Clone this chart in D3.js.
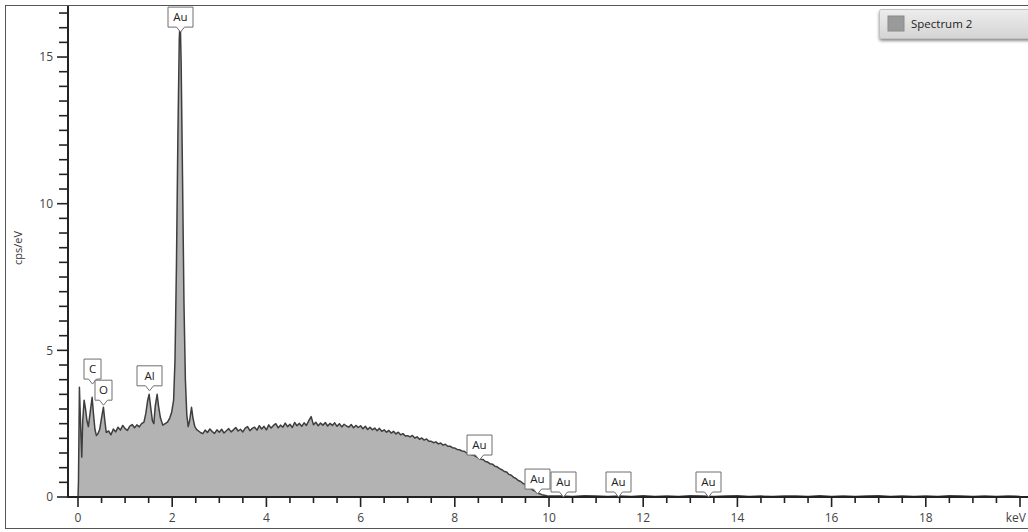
<!DOCTYPE html>
<html>
<head>
<meta charset="utf-8">
<script src="https://cdn.jsdelivr.net/npm/d3@7"></script>
<style>
  body { margin: 0; background: #fff; }
  svg { display: block; font-family: "Open Sans", "DejaVu Sans", sans-serif; }
</style>
</head>
<body>
<script>
// Low energy part of the spectrum (peaks C, O, Al, Au M)
const peakKeV = [0.00, 0.01, 0.03, 0.06, 0.08, 0.10, 0.13, 0.16, 0.19, 0.22, 0.26, 0.30, 0.33, 0.36, 0.39, 0.42,
  0.46, 0.50, 0.54, 0.57, 0.60, 0.65, 0.70, 0.75, 0.80, 0.85, 0.90, 0.95, 1.00, 1.05, 1.10, 1.15, 1.20, 1.25,
  1.30, 1.35, 1.40, 1.44, 1.48, 1.51, 1.54, 1.58, 1.61, 1.64, 1.68, 1.71, 1.75, 1.80, 1.85, 1.90, 1.95, 1.99,
  2.03, 2.06, 2.09, 2.12, 2.15, 2.17, 2.19, 2.22, 2.25, 2.28, 2.31, 2.34, 2.37, 2.41, 2.44, 2.48, 2.52, 2.56, 2.60];
const peakCps = [0.00, 0.50, 3.74, 2.20, 1.36, 2.60, 3.30, 3.00, 2.60, 2.40, 2.90, 3.40, 2.80, 2.30, 2.10, 2.15,
  2.30, 2.70, 3.06, 2.60, 2.20, 2.25, 2.12, 2.32, 2.22, 2.38, 2.28, 2.44, 2.33, 2.27, 2.42, 2.47, 2.36, 2.46,
  2.39, 2.50, 2.55, 2.85, 3.30, 3.50, 3.10, 2.60, 2.50, 3.10, 3.50, 3.10, 2.70, 2.45, 2.50, 2.55, 2.70, 2.90,
  3.30, 4.70, 7.90, 12.2, 15.6, 16.3, 14.8, 10.8, 6.60, 4.00, 2.80, 2.40, 2.60, 3.06, 2.70, 2.40, 2.30, 2.25, 2.20];

// Bremsstrahlung background, channels every 0.05 keV from 2.65 keV
const bgStart = 2.65, bgStep = 0.05;
const bgCps = [
  2.16, 2.28, 2.20, 2.32, 2.23, 2.17, 2.29, 2.21, 2.31, 2.18, 2.26,
  2.33, 2.22, 2.29, 2.37, 2.25, 2.31, 2.22, 2.35, 2.40, 2.26, 2.34,
  2.38, 2.28, 2.43, 2.32, 2.41, 2.29, 2.46, 2.35, 2.44, 2.50, 2.36,
  2.45, 2.38, 2.52, 2.40, 2.48, 2.37, 2.54, 2.43, 2.51, 2.41, 2.53,
  2.44, 2.60, 2.74, 2.46, 2.55, 2.43, 2.52, 2.45, 2.54, 2.42, 2.51,
  2.44, 2.53, 2.41, 2.50, 2.39, 2.48, 2.42, 2.38, 2.47, 2.36, 2.44,
  2.37, 2.43, 2.33, 2.41, 2.30, 2.38, 2.29, 2.35, 2.26, 2.34, 2.24,
  2.29, 2.21, 2.27, 2.18, 2.24, 2.15, 2.21, 2.12, 2.16, 2.08, 2.09,
  2.05, 2.10, 2.01, 2.05, 1.97, 2.01, 1.94, 1.98, 1.90, 1.90, 1.85,
  1.88, 1.81, 1.84, 1.77, 1.80, 1.73, 1.73, 1.68, 1.67, 1.62, 1.61,
  1.57, 1.56, 1.50, 1.50, 1.44, 1.43, 1.38, 1.34, 1.29, 1.28, 1.21,
  1.19, 1.13, 1.12, 1.05, 1.03, 0.97, 0.93, 0.87, 0.85, 0.77, 0.74,
  0.67, 0.63, 0.56, 0.53, 0.46, 0.43, 0.35, 0.31, 0.24, 0.21, 0.15,
  0.11, 0.08, 0.06, 0.04, 0.03];

// Tail above 10 keV, channels every 0.25 keV from 10.25 keV
const tailStart = 10.25, tailStep = 0.25;
const tailCps = [
  0.03, 0.02, 0.04, 0.03, 0.02, 0.03, 0.02, 0.04, 0.02, 0.03,
  0.02, 0.04, 0.03, 0.02, 0.03, 0.04, 0.02, 0.03, 0.02, 0.03,
  0.03, 0.02, 0.04, 0.02, 0.03, 0.02, 0.03, 0.04, 0.02, 0.03,
  0.02, 0.03, 0.02, 0.04, 0.03, 0.02, 0.03, 0.02, 0.03, 0.02];

// Element markers: label, energy, height of pointer tip
const markerNames = ["Au", "C", "O", "Al", "Au", "Au", "Au", "Au", "Au"];
const markerKeV = [2.17, 0.30, 0.54, 1.51, 8.51, 9.75, 10.30, 11.46, 13.38];
const markerTip = [15.85, 3.85, 3.13, 3.62, 1.26, 0.10, 0.0, 0.0, 0.0];

const yTickLabels = [0, 5, 10, 15];
const xTickLabels = [0, 2, 4, 6, 8, 10, 12, 14, 16, 18];
const seriesName = "Spectrum 2";

const width = 1028, height = 532;

let spectrum = peakKeV.map((k, i) => ({ k, v: peakCps[i] }));
bgCps.forEach((v, i) => spectrum.push({ k: bgStart + i * bgStep, v }));
tailCps.forEach((v, i) => spectrum.push({ k: tailStart + i * tailStep, v }));

const x = d3.scaleLinear().domain([0, 20]).range([78, 1020]);
const y = d3.scaleLinear().domain([0, 16.74]).range([497, 6]);

const svg = d3.select("body").append("svg")
    .attr("width", width)
    .attr("height", height);

// outer frame
svg.append("rect")
    .attr("x", 5.5).attr("y", 5.5)
    .attr("width", 1030).attr("height", 523)
    .attr("fill", "none")
    .attr("stroke", "#555")
    .attr("stroke-width", 1);

// spectrum
const area = d3.area()
    .x(d => x(d.k))
    .y0(y(0))
    .y1(d => y(d.v));
const line = d3.line()
    .x(d => x(d.k))
    .y(d => y(d.v));

svg.append("path")
    .datum(spectrum)
    .attr("d", area)
    .attr("fill", "#b3b3b3");
svg.append("path")
    .datum(spectrum)
    .attr("d", line)
    .attr("fill", "none")
    .attr("stroke", "#3e3e3e")
    .attr("stroke-width", 1.5)
    .attr("stroke-linejoin", "round");

// axes
const axisColor = "#222";
svg.append("line")
    .attr("x1", 68).attr("x2", 68).attr("y1", 6).attr("y2", 498)
    .attr("stroke", axisColor).attr("stroke-width", 2);
svg.append("line")
    .attr("x1", 67).attr("x2", 1030).attr("y1", 497).attr("y2", 497)
    .attr("stroke", axisColor).attr("stroke-width", 2);

const yMinor = d3.range(0, 16.6, 0.5);
svg.append("g")
    .selectAll("line")
    .data(yMinor)
    .join("line")
    .attr("x1", d => (d % 5 === 0 ? 57 : 59))
    .attr("x2", 68)
    .attr("y1", d => y(d)).attr("y2", d => y(d))
    .attr("stroke", axisColor).attr("stroke-width", 1.6);

svg.append("g")
    .selectAll("text")
    .data(yTickLabels)
    .join("text")
    .attr("x", 53)
    .attr("y", d => y(d))
    .attr("dy", "0.35em")
    .attr("text-anchor", "end")
    .attr("font-size", 12)
    .attr("fill", "#444")
    .text(d => d);

const xMinor = d3.range(0, 20.01, 0.5);
svg.append("g")
    .selectAll("line")
    .data(xMinor)
    .join("line")
    .attr("x1", d => x(d)).attr("x2", d => x(d))
    .attr("y1", 497)
    .attr("y2", d => (d % 2 === 0 ? 507 : 503))
    .attr("stroke", axisColor).attr("stroke-width", 1.6);

svg.append("g")
    .selectAll("text")
    .data(xTickLabels)
    .join("text")
    .attr("x", d => x(d))
    .attr("y", 522)
    .attr("text-anchor", "middle")
    .attr("font-size", 12)
    .attr("fill", "#444")
    .text(d => d);

svg.append("text")
    .attr("x", 1026)
    .attr("y", 522)
    .attr("text-anchor", "end")
    .attr("font-size", 12)
    .attr("fill", "#444")
    .text("keV");

svg.append("text")
    .attr("transform", "translate(22,248) rotate(-90)")
    .attr("text-anchor", "middle")
    .attr("font-size", 11)
    .attr("fill", "#333")
    .text("cps/eV");

// element markers
const markers = markerNames.map((name, i) => ({ name, k: markerKeV[i], tip: markerTip[i] }));
const mg = svg.append("g")
    .selectAll("g")
    .data(markers)
    .join("g");

mg.each(function (d) {
    const g = d3.select(this);
    const cx = Math.round(x(d.k)) + 0.5;
    const tipY = y(d.tip);
    const boxW = d.name.length === 1 ? 17 : 25;
    const boxH = 20;
    const bottom = tipY - 5;
    const top = bottom - boxH;
    const left = cx - boxW / 2, right = cx + boxW / 2;
    g.append("path")
        .attr("d", `M${left},${top}H${right}V${bottom}H${cx + 4}L${cx},${tipY}L${cx - 4},${bottom}H${left}Z`)
        .attr("fill", "#fff")
        .attr("stroke", "#6e6e6e")
        .attr("stroke-width", 1);
    g.append("text")
        .attr("x", cx)
        .attr("y", top + boxH / 2)
        .attr("dy", "0.36em")
        .attr("text-anchor", "middle")
        .attr("font-size", 11.5)
        .attr("fill", "#222")
        .text(d.name);
});

// legend
const defs = svg.append("defs");
const grad = defs.append("linearGradient")
    .attr("id", "legend-bg")
    .attr("x1", 0).attr("x2", 0).attr("y1", 0).attr("y2", 1);
grad.append("stop").attr("offset", "0%").attr("stop-color", "#ededed");
grad.append("stop").attr("offset", "100%").attr("stop-color", "#d4d4d4");
defs.append("filter")
    .attr("id", "legend-shadow")
    .attr("x", "-10%").attr("y", "-20%").attr("width", "130%").attr("height", "160%")
    .append("feDropShadow")
    .attr("dx", 0).attr("dy", 2)
    .attr("stdDeviation", 1.5)
    .attr("flood-color", "#000")
    .attr("flood-opacity", 0.45);

const legend = svg.append("g");
legend.append("rect")
    .attr("x", 879.5).attr("y", 9.5)
    .attr("width", 170).attr("height", 29)
    .attr("rx", 2)
    .attr("fill", "url(#legend-bg)")
    .attr("stroke", "#c2c2c2")
    .attr("filter", "url(#legend-shadow)");
legend.append("rect")
    .attr("x", 888).attr("y", 16)
    .attr("width", 16).attr("height", 15)
    .attr("fill", "#9a9a9a")
    .attr("stroke", "#8a8a8a");
legend.append("text")
    .attr("x", 911).attr("y", 28)
    .attr("font-size", 11.5)
    .attr("fill", "#222")
    .text(seriesName);
</script>
</body>
</html>
